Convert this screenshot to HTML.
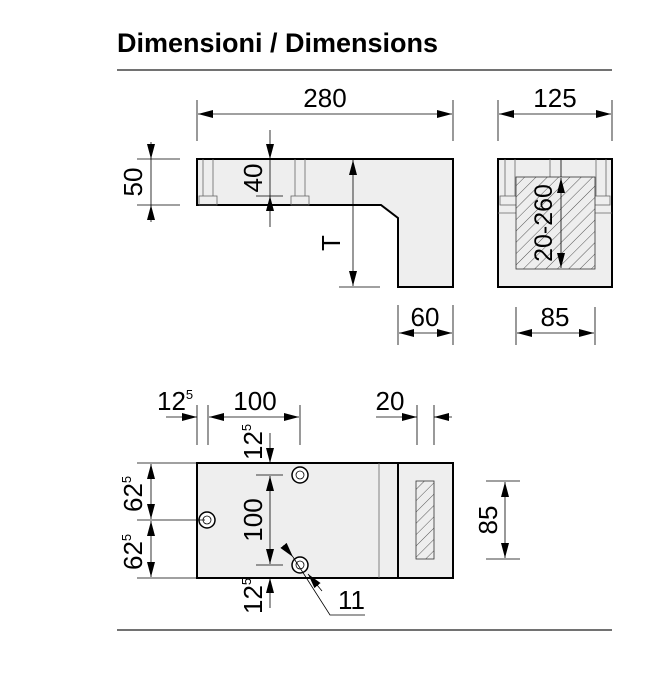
<!DOCTYPE html>
<html><head><meta charset="utf-8"><style>
html,body{margin:0;padding:0;background:#fff;}
svg{display:block;}
text{font-family:"Liberation Sans",Arial,sans-serif;fill:#000;}
</style></head><body>
<svg width="666" height="688" viewBox="0 0 666 688" xmlns="http://www.w3.org/2000/svg">
<defs>
<marker id="a" viewBox="0 0 15 8" refX="15" refY="4" markerWidth="15" markerHeight="8" markerUnits="userSpaceOnUse" orient="auto-start-reverse"><path d="M0,0 L15,4 L0,8 Z" fill="#000"/></marker>
<pattern id="h" patternUnits="userSpaceOnUse" width="8" height="8" patternTransform="rotate(45)"><rect width="8" height="8" fill="#eee"/><line x1="0" y1="0" x2="0" y2="8" stroke="#555" stroke-width="1"/></pattern>
</defs>
<text x="117" y="52" font-size="27" font-weight="bold">Dimensioni / Dimensions</text>
<line x1="117" y1="70" x2="612" y2="70" stroke="#444" stroke-width="1.5"/>
<line x1="117" y1="630" x2="612" y2="630" stroke="#444" stroke-width="1.5"/>
<g stroke="#000" stroke-width="0.8" fill="none">
<path d="M197,159 H453 V287 H398 V218 L381,205 H197 Z" fill="#eee" stroke-width="2"/>
<g stroke="#666">
<line x1="203" y1="159" x2="203" y2="196"/><line x1="213" y1="159" x2="213" y2="196"/><rect x="199" y="196" width="18" height="9"/>
<line x1="295" y1="159" x2="295" y2="196"/><line x1="305" y1="159" x2="305" y2="196"/><rect x="291" y="196" width="18" height="9"/>
</g>
<line x1="197" y1="100" x2="197" y2="141"/><line x1="453" y1="100" x2="453" y2="141"/>
<line x1="198" y1="114" x2="452" y2="114" marker-start="url(#a)" marker-end="url(#a)"/>
<line x1="137" y1="159" x2="180" y2="159"/><line x1="137" y1="205" x2="180" y2="205"/>
<line x1="151" y1="142" x2="151" y2="159" marker-end="url(#a)"/><line x1="151" y1="159" x2="151" y2="205"/><line x1="151" y1="222" x2="151" y2="205" marker-end="url(#a)"/>
<line x1="270" y1="130" x2="270" y2="159" marker-end="url(#a)"/><line x1="270" y1="159" x2="270" y2="196"/><line x1="270" y1="227" x2="270" y2="196" marker-end="url(#a)"/>
<line x1="256" y1="196" x2="283" y2="196"/>
<line x1="353" y1="160" x2="353" y2="286" marker-start="url(#a)" marker-end="url(#a)"/>
<line x1="339" y1="287" x2="380" y2="287"/>
<line x1="398" y1="305" x2="398" y2="345"/><line x1="453" y1="305" x2="453" y2="345"/>
<line x1="399" y1="333" x2="452" y2="333" marker-start="url(#a)" marker-end="url(#a)"/>
<rect x="498" y="159" width="114" height="128" fill="#eee" stroke-width="2"/>
<g stroke="#666">
<line x1="505" y1="159" x2="505" y2="196"/><line x1="515" y1="159" x2="515" y2="196"/>
<line x1="596" y1="159" x2="596" y2="196"/><line x1="606" y1="159" x2="606" y2="196"/>
<rect x="500" y="196" width="110" height="9"/>
<line x1="498" y1="213" x2="612" y2="213"/>
<line x1="550" y1="159" x2="550" y2="177"/>
</g>
<rect x="516" y="177" width="79" height="92" fill="url(#h)" stroke="#333"/>
<line x1="561" y1="159" x2="561" y2="177"/>
<line x1="561" y1="178" x2="561" y2="268" marker-start="url(#a)" marker-end="url(#a)"/>
<line x1="498" y1="100" x2="498" y2="141"/><line x1="612" y1="100" x2="612" y2="141"/>
<line x1="499" y1="114" x2="611" y2="114" marker-start="url(#a)" marker-end="url(#a)"/>
<line x1="516" y1="307" x2="516" y2="345"/><line x1="595" y1="307" x2="595" y2="345"/>
<line x1="517" y1="333" x2="594" y2="333" marker-start="url(#a)" marker-end="url(#a)"/>
<rect x="197" y="463" width="256" height="115" fill="#eee" stroke-width="2"/>
<line x1="398" y1="463" x2="398" y2="578" stroke-width="2"/>
<line x1="379" y1="463" x2="379" y2="578" stroke="#666"/>
<rect x="416" y="481" width="18" height="78" fill="url(#h)" stroke="#333"/>
<circle cx="300" cy="475" r="8" stroke-width="1.5" fill="#fff"/><circle cx="300" cy="475" r="4"/>
<circle cx="207" cy="520" r="8" stroke-width="1.5" fill="#fff"/><circle cx="207" cy="520" r="4"/>
<circle cx="300" cy="565" r="8" stroke-width="1.5" fill="#fff"/><circle cx="300" cy="565" r="4"/>
<line x1="197" y1="405" x2="197" y2="445"/><line x1="208" y1="405" x2="208" y2="445"/><line x1="300" y1="405" x2="300" y2="445"/>
<line x1="166" y1="417" x2="197" y2="417" marker-end="url(#a)"/>
<line x1="209" y1="417" x2="299" y2="417" marker-start="url(#a)" marker-end="url(#a)"/>
<line x1="417" y1="405" x2="417" y2="445"/><line x1="434" y1="405" x2="434" y2="445"/>
<line x1="376" y1="417" x2="417" y2="417" marker-end="url(#a)"/>
<line x1="452" y1="417" x2="434" y2="417" marker-end="url(#a)"/>
<line x1="137" y1="463" x2="205" y2="463"/><line x1="137" y1="520" x2="205" y2="520"/><line x1="137" y1="578" x2="205" y2="578"/>
<line x1="151" y1="464" x2="151" y2="519" marker-start="url(#a)" marker-end="url(#a)"/>
<line x1="151" y1="521" x2="151" y2="577" marker-start="url(#a)" marker-end="url(#a)"/>
<line x1="256" y1="475" x2="283" y2="475"/><line x1="256" y1="565" x2="283" y2="565"/>
<line x1="270" y1="433" x2="270" y2="463" marker-end="url(#a)"/>
<line x1="270" y1="476" x2="270" y2="564" marker-start="url(#a)" marker-end="url(#a)"/>
<line x1="270" y1="608" x2="270" y2="578" marker-end="url(#a)"/>
<line x1="486" y1="481" x2="520" y2="481"/><line x1="486" y1="559" x2="520" y2="559"/>
<line x1="505" y1="482" x2="505" y2="558" marker-start="url(#a)" marker-end="url(#a)"/>
<line x1="284" y1="546" x2="293" y2="557" marker-end="url(#a)"/>
<line x1="322" y1="591" x2="308" y2="574" marker-end="url(#a)"/>
<polyline points="293,557 330,615 365,615"/>
</g>
<g font-size="26">
<text x="325" y="107" text-anchor="middle">280</text>
<text x="555" y="107" text-anchor="middle">125</text>
<text x="425" y="326" text-anchor="middle">60</text>
<text x="555" y="326" text-anchor="middle">85</text>
<text transform="translate(142,182) rotate(-90)" text-anchor="middle">50</text>
<text transform="translate(262,178) rotate(-90)" text-anchor="middle">40</text>
<text transform="translate(340,243) rotate(-90)" text-anchor="middle">T</text>
<text transform="translate(552,223) rotate(-90)" text-anchor="middle" font-size="25">20-260</text>
<text x="255" y="410" text-anchor="middle">100</text>
<text x="390" y="410" text-anchor="middle">20</text>
<text x="157" y="410">12<tspan font-size="13" dy="-11">5</tspan></text>
<text transform="translate(262,520) rotate(-90)" text-anchor="middle">100</text>
<text transform="translate(497,520) rotate(-90)" text-anchor="middle">85</text>
<text x="338" y="609">11</text>
<text transform="translate(142,512) rotate(-90)">62<tspan font-size="13" dy="-11">5</tspan></text>
<text transform="translate(142,570) rotate(-90)">62<tspan font-size="13" dy="-11">5</tspan></text>
<text transform="translate(262,460) rotate(-90)">12<tspan font-size="13" dy="-11">5</tspan></text>
<text transform="translate(262,614) rotate(-90)">12<tspan font-size="13" dy="-11">5</tspan></text>
</g>
</svg>
</body></html>
